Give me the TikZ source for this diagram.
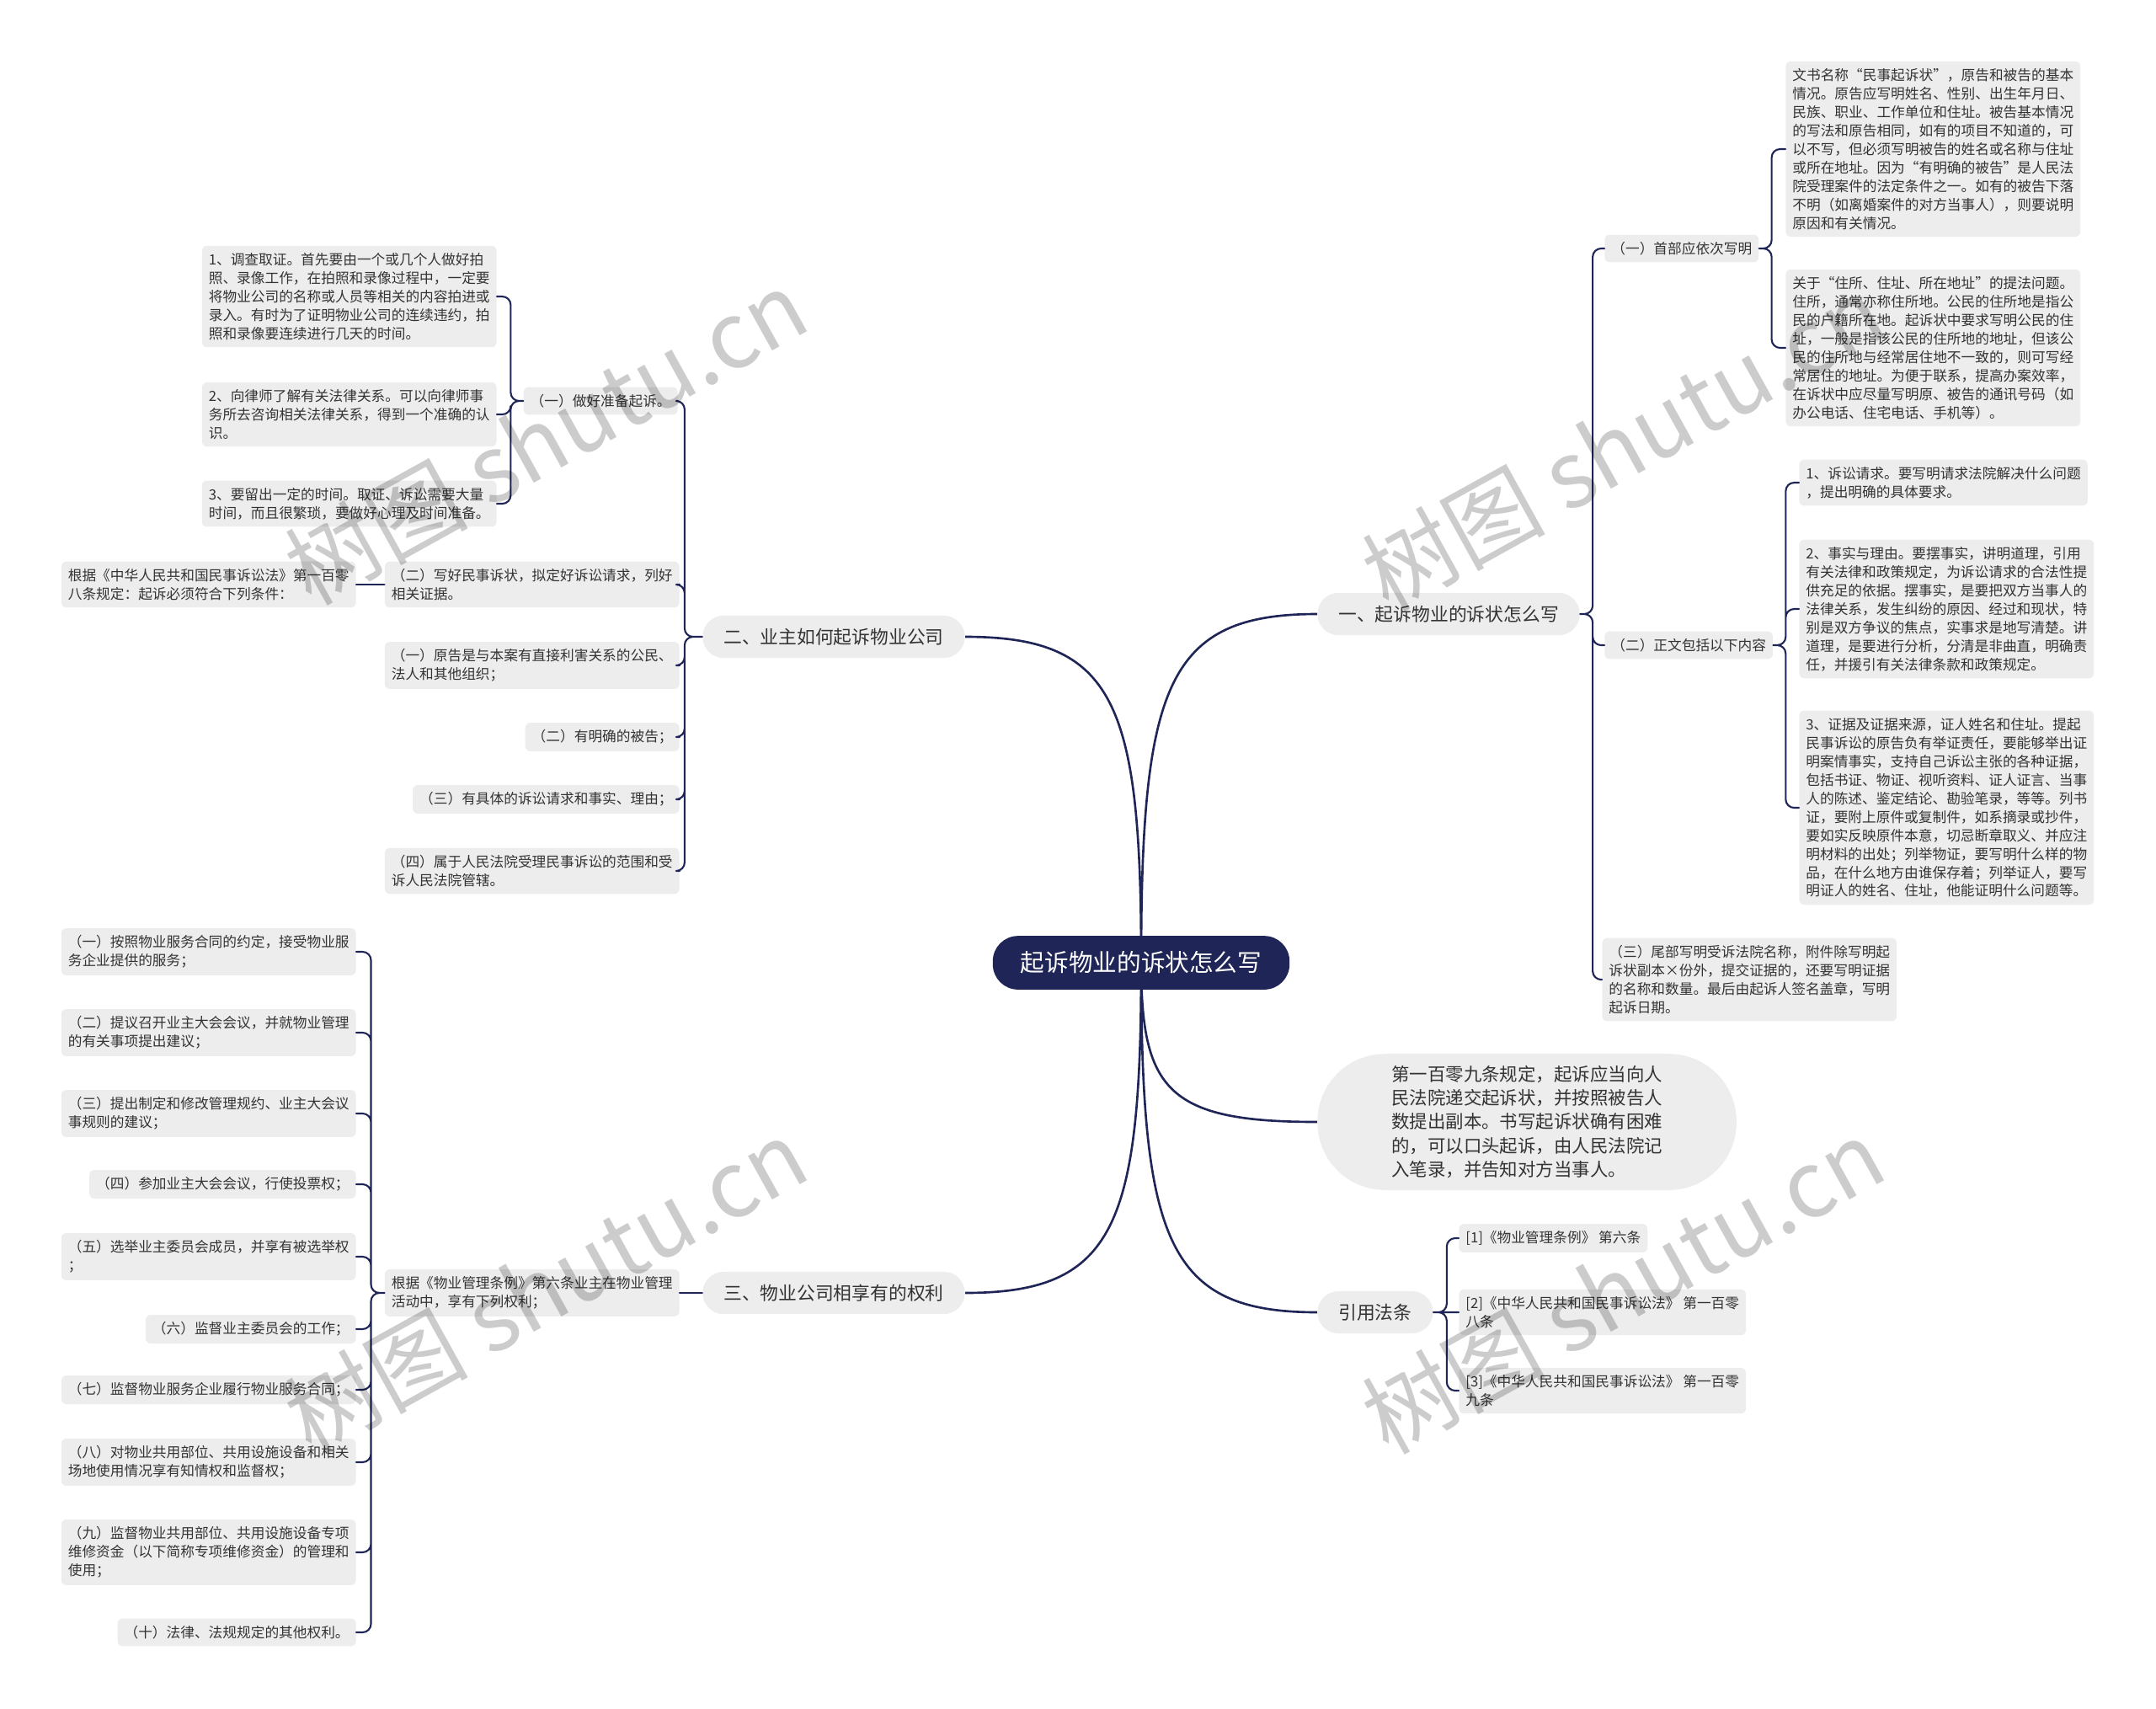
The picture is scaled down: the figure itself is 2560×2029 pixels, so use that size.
\documentclass[tikz,border=0pt]{standalone}
\usepackage{fontspec}
\setmainfont{Noto Sans CJK SC}
\usetikzlibrary{calc,backgrounds}
\definecolor{navy}{HTML}{1F2556}
\definecolor{boxgray}{HTML}{EDEDED}
\definecolor{ink}{HTML}{333333}
\tikzset{
  rootnode/.style={rounded corners=0.6cm, fill=navy, text=white,
                   font=\fontsize{16.3}{20}\selectfont, inner xsep=0.66cm, inner ysep=0.37cm},
  topic/.style={rounded corners=0.5cm, fill=boxgray, text=ink,
                font=\fontsize{12.4}{16}\selectfont, inner xsep=0.5cm, inner ysep=0.3cm},
  bubble/.style={rounded corners=1.6cm, fill=boxgray, text=ink, align=left,
                 font=\fontsize{12.2}{16.1}\selectfont, inner xsep=1.76cm, inner ysep=0.28cm},
  leaf/.style={rounded corners=0.12cm, fill=boxgray, text=ink, align=left,
               font=\fontsize{9.5}{12.5}\selectfont, inner xsep=0.16cm, inner ysep=0.17cm},
  trunk/.style={navy, line width=1.5pt,
    to path={.. controls ($(\tikztostart)!0.8!(\tikztostart |- \tikztotarget)$)
             and ($(\tikztostart |- \tikztotarget)!0.15!(\tikztotarget)$) .. (\tikztotarget)}},
  twig/.style={navy, line width=1.2pt, rounded corners=0.2cm},
  wmark/.style={font=\fontsize{62}{62}\selectfont, text=black, text opacity=0.2, rotate=29},
}

\begin{document}
\begin{tikzpicture}[x=0.02cm, y=-0.02cm, line cap=round, line join=round]
\useasboundingbox (0,0) rectangle (2560,2029);

% ---- centre and first level ----
\node[rootnode] (root) at (1355,1143) {起诉物业的诉状怎么写};
\node[topic, anchor=west] (suzhuang) at (1564,729) {一、起诉物业的诉状怎么写};
\node[topic, anchor=east] (qisu) at (1146,756) {二、业主如何起诉物业公司};
\node[topic, anchor=east] (quanli) at (1146,1535) {三、物业公司相享有的权利};
\node[bubble, anchor=west] (dijiutiao) at (1564,1332)
  {第一百零九条规定，起诉应当向人\\民法院递交起诉状，并按照被告人\\数提出副本。书写起诉状确有困难\\的，可以口头起诉，由人民法院记\\入笔录，并告知对方当事人。};
\node[topic, anchor=west] (fatiao) at (1564,1558) {引用法条};

\begin{scope}[on background layer]
\draw[trunk] (root.center) to (suzhuang.west);
\draw[trunk] (root.center) to (qisu.east);
\draw[trunk] (root.center) to (quanli.east);
\draw[trunk] (root.center) to (dijiutiao.west);
\draw[trunk] (root.center) to (fatiao.west);
\end{scope}

% ---- right: how to write ----
\node[leaf, anchor=west] (shoubu) at (1905,295) {（一）首部应依次写明};
\node[leaf, anchor=west] (zhengwen) at (1905,766) {（二）正文包括以下内容};
\node[leaf, anchor=west] (weibu) at (1902,1163)
  {（三）尾部写明受诉法院名称，附件除写明起\\诉状副本×份外，提交证据的，还要写明证据\\的名称和数量。最后由起诉人签名盖章，写明\\起诉日期。};
\draw[twig] (suzhuang.east) -- ++(15,0) |- (shoubu.west)
            (suzhuang.east) -- ++(15,0) |- (zhengwen.west)
            (suzhuang.east) -- ++(15,0) |- (weibu.west);

\node[leaf, anchor=west] (mingcheng) at (2120,177)
  {文书名称“民事起诉状”，原告和被告的基本\\情况。原告应写明姓名、性别、出生年月日、\\民族、职业、工作单位和住址。被告基本情况\\的写法和原告相同，如有的项目不知道的，可\\以不写，但必须写明被告的姓名或名称与住址\\或所在地址。因为“有明确的被告”是人民法\\院受理案件的法定条件之一。如有的被告下落\\不明（如离婚案件的对方当事人），则要说明\\原因和有关情况。};
\node[leaf, anchor=west] (zhusuo) at (2120,413)
  {关于“住所、住址、所在地址”的提法问题。\\住所，通常亦称住所地。公民的住所地是指公\\民的户籍所在地。起诉状中要求写明公民的住\\址，一般是指该公民的住所地的地址，但该公\\民的住所地与经常居住地不一致的，则可写经\\常居住的地址。为便于联系，提高办案效率，\\在诉状中应尽量写明原、被告的通讯号码（如\\办公电话、住宅电话、手机等）。};
\draw[twig] (shoubu.east) -- ++(15,0) |- (mingcheng.west)
            (shoubu.east) -- ++(15,0) |- (zhusuo.west);

\node[leaf, anchor=west] (qingqiu) at (2136,573)
  {1、诉讼请求。要写明请求法院解决什么问题\\，提出明确的具体要求。};
\node[leaf, anchor=west] (liyou) at (2136,723)
  {2、事实与理由。要摆事实，讲明道理，引用\\有关法律和政策规定，为诉讼请求的合法性提\\供充足的依据。摆事实，是要把双方当事人的\\法律关系，发生纠纷的原因、经过和现状，特\\别是双方争议的焦点，实事求是地写清楚。讲\\道理，是要进行分析，分清是非曲直，明确责\\任，并援引有关法律条款和政策规定。};
\node[leaf, anchor=west] (zhengju) at (2136,959)
  {3、证据及证据来源，证人姓名和住址。提起\\民事诉讼的原告负有举证责任，要能够举出证\\明案情事实，支持自己诉讼主张的各种证据，\\包括书证、物证、视听资料、证人证言、当事\\人的陈述、鉴定结论、勘验笔录，等等。列书\\证，要附上原件或复制件，如系摘录或抄件，\\要如实反映原件本意，切忌断章取义、并应注\\明材料的出处；列举物证，要写明什么样的物\\品，在什么地方由谁保存着；列举证人，要写\\明证人的姓名、住址，他能证明什么问题等。};
\draw[twig] (zhengwen.east) -- ++(15,0) |- (qingqiu.west)
            (zhengwen.east) -- ++(15,0) |- (liyou.west)
            (zhengwen.east) -- ++(15,0) |- (zhengju.west);

% ---- right: cited articles ----
\node[leaf, anchor=west] (ref1) at (1732,1470) {[1]《物业管理条例》 第六条};
\node[leaf, anchor=west] (ref2) at (1732,1558) {[2]《中华人民共和国民事诉讼法》 第一百零\\八条};
\node[leaf, anchor=west] (ref3) at (1732,1651) {[3]《中华人民共和国民事诉讼法》 第一百零\\九条};
\draw[twig] (fatiao.east) -- ++(16,0) |- (ref1.west)
            (fatiao.east) -- (ref2.west)
            (fatiao.east) -- ++(16,0) |- (ref3.west);

% ---- left: how to sue ----
\node[leaf, anchor=east] (zhunbei) at (805,476) {（一）做好准备起诉。};
\node[leaf, anchor=east] (xiehao) at (807,694) {（二）写好民事诉状，拟定好诉讼请求，列好\\相关证据。};
\node[leaf, anchor=east] (yuangao) at (807,790) {（一）原告是与本案有直接利害关系的公民、\\法人和其他组织；};
\node[leaf, anchor=east] (beigao) at (807,875) {（二）有明确的被告；};
\node[leaf, anchor=east] (juti) at (807,949) {（三）有具体的诉讼请求和事实、理由；};
\node[leaf, anchor=east] (guanxia) at (807,1034) {（四）属于人民法院受理民事诉讼的范围和受\\诉人民法院管辖。};
\draw[twig] (qisu.west) -- ++(-21,0) |- (zhunbei.east)
            (qisu.west) -- ++(-21,0) |- (xiehao.east)
            (qisu.west) -- ++(-21,0) |- (yuangao.east)
            (qisu.west) -- ++(-21,0) |- (beigao.east)
            (qisu.west) -- ++(-21,0) |- (juti.east)
            (qisu.west) -- ++(-21,0) |- (guanxia.east);

\node[leaf, anchor=east] (quzheng) at (590,352)
  {1、调查取证。首先要由一个或几个人做好拍\\照、录像工作，在拍照和录像过程中，一定要\\将物业公司的名称或人员等相关的内容拍进或\\录入。有时为了证明物业公司的连续违约，拍\\照和录像要连续进行几天的时间。};
\node[leaf, anchor=east] (lvshi) at (590,492)
  {2、向律师了解有关法律关系。可以向律师事\\务所去咨询相关法律关系，得到一个准确的认\\识。};
\node[leaf, anchor=east] (shijian) at (590,598)
  {3、要留出一定的时间。取证、诉讼需要大量\\时间，而且很繁琐，要做好心理及时间准备。};
\draw[twig] (zhunbei.west) -- ++(-15,0) |- (quzheng.east)
            (zhunbei.west) -- ++(-15,0) |- (lvshi.east)
            (zhunbei.west) -- ++(-15,0) |- (shijian.east);

\node[leaf, anchor=east] (genju) at (423,694) {根据《中华人民共和国民事诉讼法》第一百零\\八条规定：起诉必须符合下列条件：};
\draw[twig] (xiehao.west) -- (genju.east);

% ---- left: owners' rights ----
\node[leaf, anchor=east] (tiaoli) at (807,1535) {根据《物业管理条例》第六条业主在物业管理\\活动中，享有下列权利；};
\draw[twig] (quanli.west) -- (tiaoli.east);

\node[leaf, anchor=east] (qx1) at (423,1130) {（一）按照物业服务合同的约定，接受物业服\\务企业提供的服务；};
\node[leaf, anchor=east] (qx2) at (423,1226) {（二）提议召开业主大会会议，并就物业管理\\的有关事项提出建议；};
\node[leaf, anchor=east] (qx3) at (423,1322) {（三）提出制定和修改管理规约、业主大会议\\事规则的建议；};
\node[leaf, anchor=east] (qx4) at (423,1406) {（四）参加业主大会会议，行使投票权；};
\node[leaf, anchor=east] (qx5) at (423,1492) {（五）选举业主委员会成员，并享有被选举权\\；};
\node[leaf, anchor=east] (qx6) at (423,1578) {（六）监督业主委员会的工作；};
\node[leaf, anchor=east] (qx7) at (423,1650) {（七）监督物业服务企业履行物业服务合同；};
\node[leaf, anchor=east] (qx8) at (423,1736) {（八）对物业共用部位、共用设施设备和相关\\场地使用情况享有知情权和监督权；};
\node[leaf, anchor=east] (qx9) at (423,1843) {（九）监督物业共用部位、共用设施设备专项\\维修资金（以下简称专项维修资金）的管理和\\使用；};
\node[leaf, anchor=east] (qx10) at (423,1938) {（十）法律、法规规定的其他权利。};
\draw[twig] (tiaoli.west) -- ++(-16,0) |- (qx1.east)
            (tiaoli.west) -- ++(-16,0) |- (qx2.east)
            (tiaoli.west) -- ++(-16,0) |- (qx3.east)
            (tiaoli.west) -- ++(-16,0) |- (qx4.east)
            (tiaoli.west) -- ++(-16,0) |- (qx5.east)
            (tiaoli.west) -- ++(-16,0) |- (qx6.east)
            (tiaoli.west) -- ++(-16,0) |- (qx7.east)
            (tiaoli.west) -- ++(-16,0) |- (qx8.east)
            (tiaoli.west) -- ++(-16,0) |- (qx9.east)
            (tiaoli.west) -- ++(-16,0) |- (qx10.east);

% ---- watermarks ----
\node[wmark] (wm1) at (648,519) {树图 shutu.cn};
\node[wmark] (wm2) at (1927,526) {树图 shutu.cn};
\node[wmark] (wm3) at (648,1527) {树图 shutu.cn};
\node[wmark] (wm4) at (1927,1527) {树图 shutu.cn};

\end{tikzpicture}
\end{document}
